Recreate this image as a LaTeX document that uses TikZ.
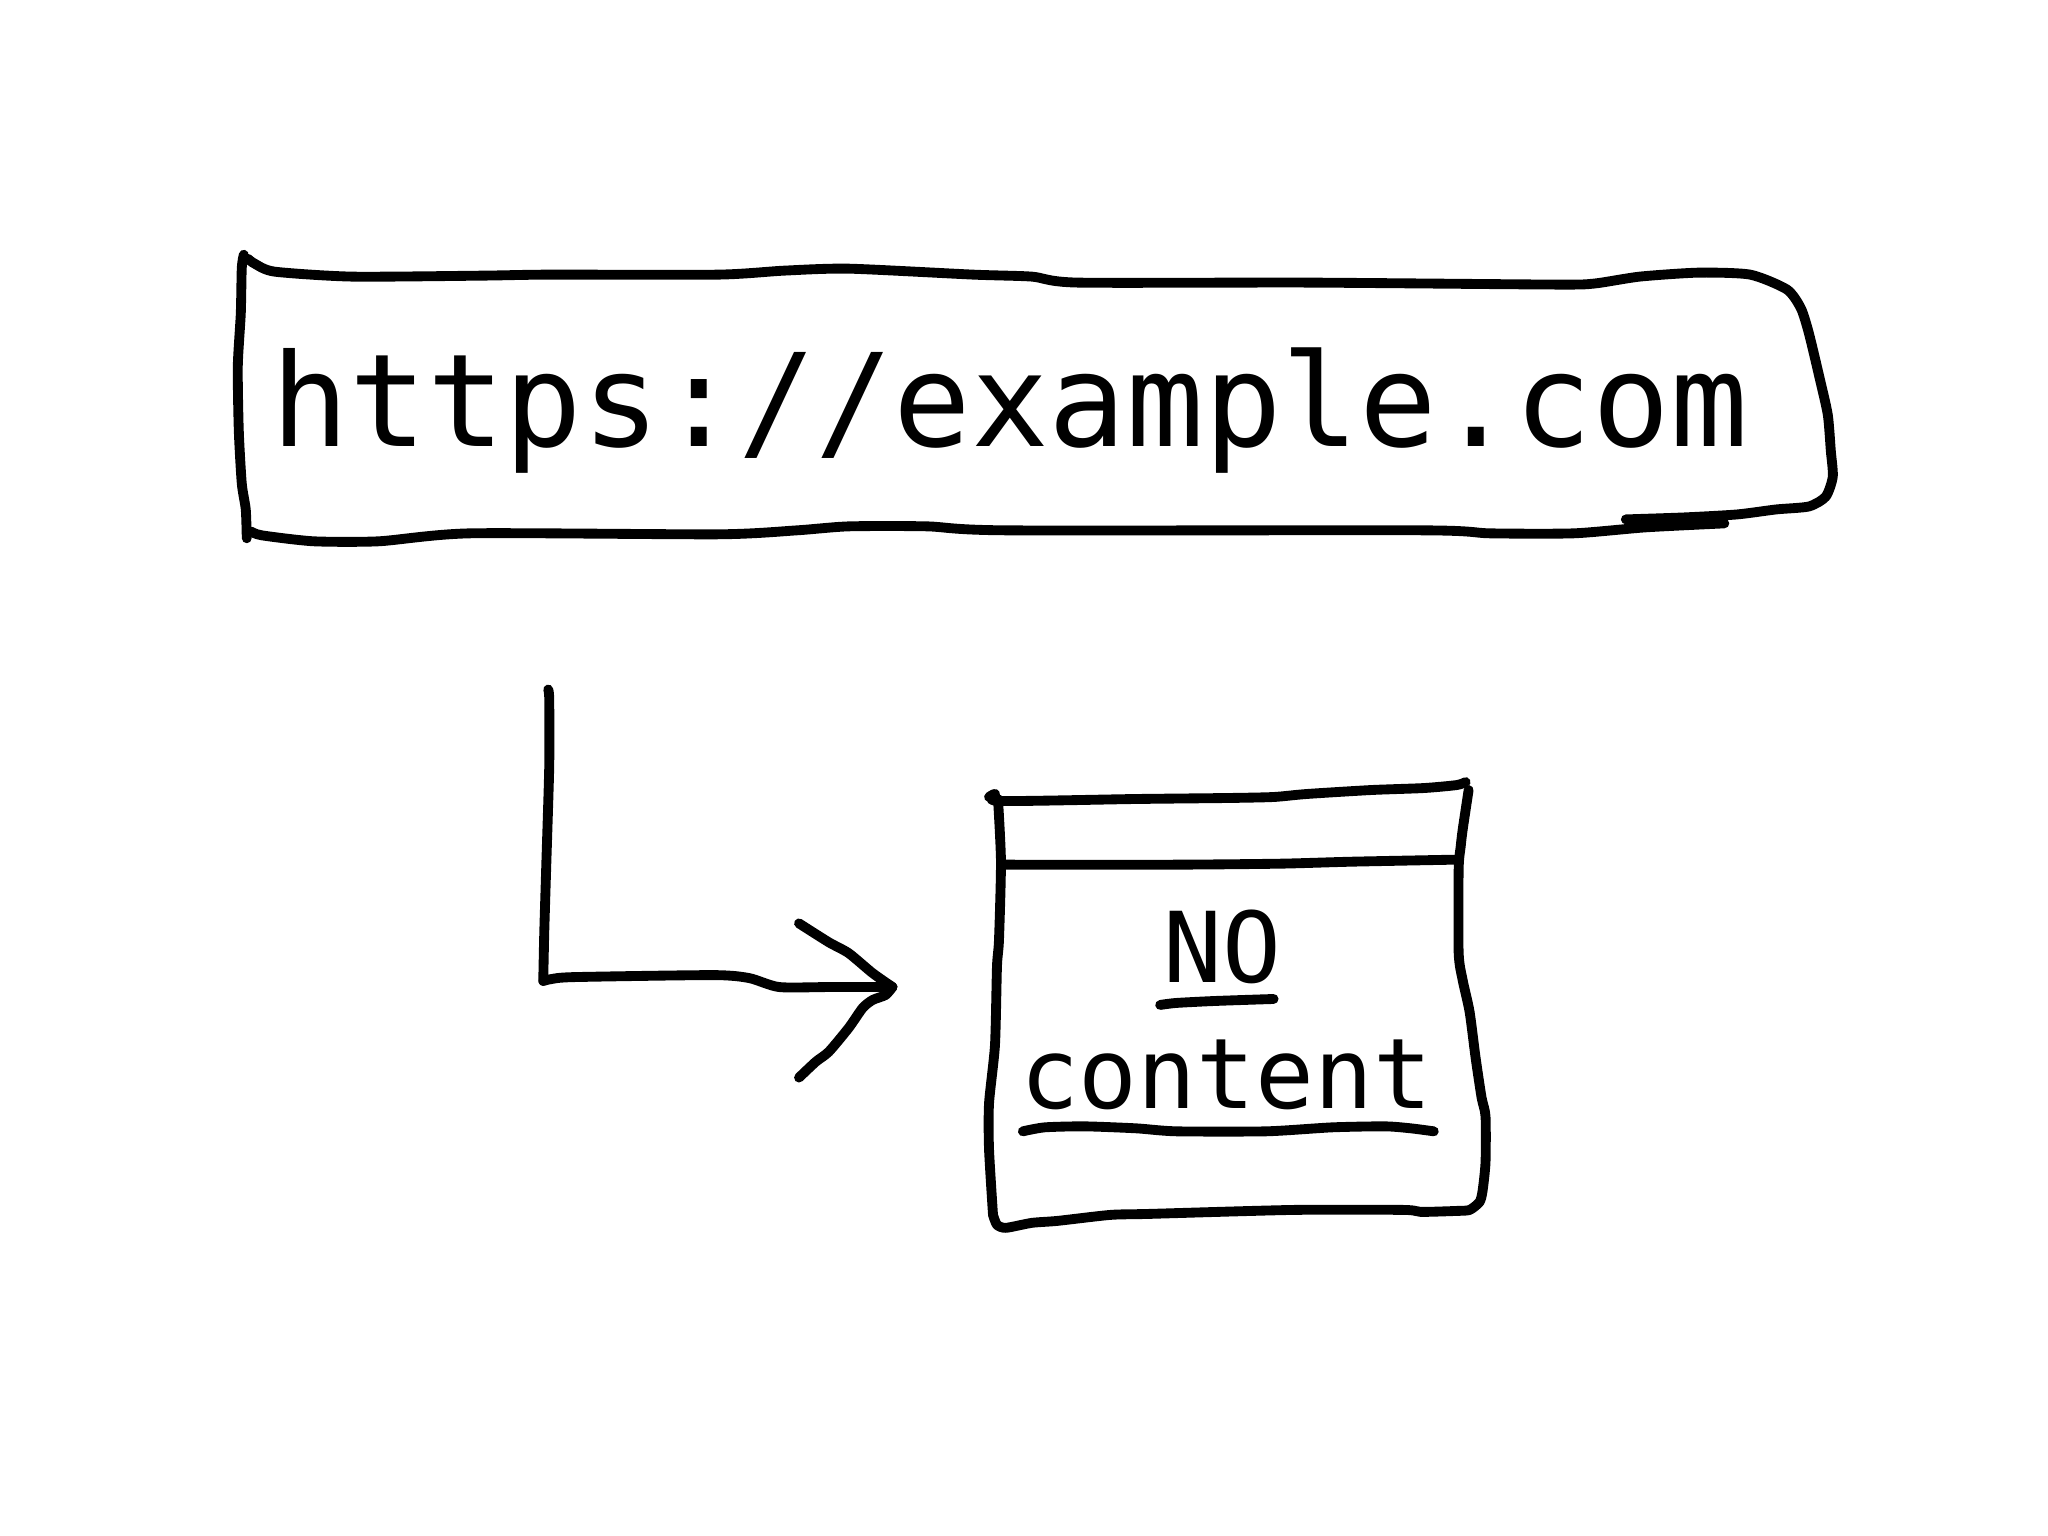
\documentclass[tikz,border=0pt]{standalone}
\usepackage{fontspec}
\setmonofont{DejaVu Sans Mono}

\begin{document}
\begin{tikzpicture}[x=0.01cm,y=-0.01cm,
   hand/.style={line width=2.8pt,line cap=round,line join=round},
   urltext/.style={anchor=base,inner sep=0pt,font=\fontsize{36.7}{40}\selectfont\ttfamily},
   boxtext/.style={anchor=base,inner sep=0pt,font=\fontsize{27.8}{30}\selectfont\ttfamily}]
\useasboundingbox (0,0) rectangle (2048,1536);
\node[urltext] (url) at (1010,446) {https://example.com};
\node[boxtext] (no) at (1222,982) {NO};
\node[boxtext] (content) at (1226,1108) {content};
\begin{scope}[scale=0.995]
\coordinate (start) at (551,693);
\coordinate (corner) at (546,986);
\coordinate (tip) at (897,992);
\draw[hand] plot[smooth,tension=0.4] coordinates {(1634,522) (1693,520) (1746,517) (1785,512)
	(1818,509) (1835,499) (1842,479) (1840,453) (1837,417) (1829,381) (1818,335) (1810,310)
	(1796,291) (1759,276) (1707,274) (1648,278) (1602,285) (1562,286) (1313,284) (1083,284)
	(1037,278) (978,276) (853,270) (788,272) (722,276) (551,276) (486,277) (354,278)
	(276,273) (256,265) (249,260)};
\draw[hand] plot[smooth,tension=0.4] coordinates {(245,256) (243,269) (242,315) (239,368)
	(240,433) (243,486) (247,512) (248,541)};
\draw[hand] plot[smooth,tension=0.4] coordinates {(252,534) (263,538) (315,544) (381,544)
	(473,536) (722,537) (801,533) (853,529) (932,529) (1011,533) (1431,533) (1497,536)
	(1582,536) (1654,530) (1733,526)};
\draw[hand] plot[smooth,tension=0.4] coordinates {(994,801) (1000,798) (1004,805) (1142,803)
	(1234,802) (1280,801) (1313,798) (1378,794) (1431,792) (1464,789) (1473,786)};
\draw[hand] plot[smooth,tension=0.4] coordinates {(1476,794) (1470,834) (1468,851) (1466,873)
	(1466,958) (1470,985) (1477,1017) (1483,1063) (1489,1103) (1493,1122) (1493,1168)
	(1490,1197) (1487,1208) (1477,1216) (1464,1217) (1428,1218) (1411,1216) (1300,1216)
	(1155,1220) (1116,1221) (1063,1227) (1037,1229) (1011,1234) (1002,1231) (998,1221)};
\draw[hand] plot[smooth,tension=0.4] coordinates {(998,1221) (994,1155) (994,1109) (1000,1050)
	(1002,971) (1004,945) (1006,866) (1003,803)};
\draw[hand] plot[smooth,tension=0.4] coordinates {(1007,869) (1182,869) (1287,868) (1359,866) (1461,864)};
\draw[hand] plot[smooth,tension=0.4] coordinates {(1166,1010) (1182,1008) (1221,1006) (1280,1004)};
\draw[hand] plot[smooth,tension=0.4] coordinates {(1028,1137) (1050,1133) (1090,1132) (1142,1134)
	(1182,1137) (1273,1137) (1339,1133) (1392,1132) (1418,1134) (1441,1137)};
\draw[hand] plot[smooth,tension=0.4] coordinates {(start) (552,703) (552,770) (549,870) (547,937) (corner)};
\draw[hand] plot[smooth,tension=0.4] coordinates {(corner) (554,984) (577,982) (717,980) (753,983)
	(783,992) (833,992) (tip)};
\draw[hand] plot[smooth,tension=0.4] coordinates {(803,928) (833,947) (853,958) (877,978) (tip)};
\draw[hand] plot[smooth,tension=0.4] coordinates {(tip) (890,1000) (877,1005) (867,1013) (853,1033)
	(833,1057) (820,1067) (803,1083)};
\end{scope}
\end{tikzpicture}
\end{document}
